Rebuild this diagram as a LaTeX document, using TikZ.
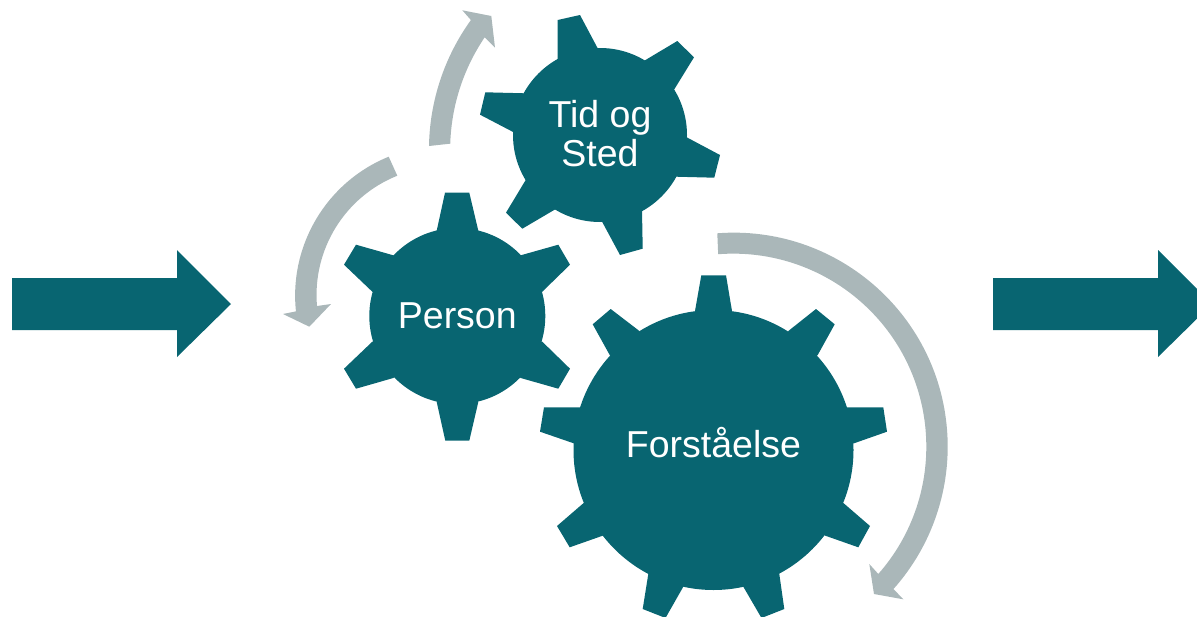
\documentclass[tikz,border=0pt]{standalone}
\usepackage{fontspec}
\setmainfont{Liberation Sans}
\usepackage{tikz}

\definecolor{gearteal}{RGB}{8,101,113}
\definecolor{ringgray}{RGB}{170,183,185}

\tikzset{
    gearfill/.style={fill=gearteal},
    ringarrow/.style={fill=ringgray},
    geartext/.style={text=white,font=\fontsize{37.5}{39}\selectfont,align=center,inner sep=0pt}
}

\begin{document}
\begin{tikzpicture}[x=1pt,y=1pt,yscale=-1,xscale=1]
    \useasboundingbox (0,0) rectangle (1197,616);
    %Right Arrow [left]
    \fill [gearfill] (12,278) -- (177,278) -- (177,250) -- (231,304) -- (177,357) -- (177,330) -- (12,330) -- cycle ;
    %Right Arrow [right]
    \fill [gearfill] (993,278) -- (1158,278) -- (1158,250) -- (1212,304) -- (1158,357) -- (1158,330) -- (993,330) -- cycle ;

    %Circular Arrow [top]
    \fill [ringarrow] (429,146) arc[start angle=181,end angle=215.8,radius=222] -- (462.3,10.3) -- (491.3,16) -- (495,47.7) -- (484.7,37.3) arc[start angle=214.1,end angle=181.8,radius=201] -- cycle ;
    %Circular Arrow [left]
    \fill [ringarrow] (388.7,156.7) arc[start angle=247.9,end angle=174,radius=150] -- (283,314) -- (309.3,326.7) -- (331,304) -- (317,306) arc[start angle=175.1,end angle=248.2,radius=128.5] -- cycle ;
    %Circular Arrow [right]
    \fill [ringarrow] (717.3,233.3) arc[start angle=-94.4,end angle=41.7,radius=214] -- (903.3,599.3) -- (874,594) -- (869.3,564) -- (878.3,574) arc[start angle=41.3,end angle=-94.5,radius=193] -- cycle ;

    %Gear [id:tid]
    \coordinate (tidmid) at (600,135);
    \fill [gearfill] (tidmid) circle (87) ;
    \fill [gearfill] (tidmid) -- (557.7,60) -- (557.7,20) -- (580,15) -- (597.7,48.3) -- cycle ;
    \fill [gearfill] (tidmid) -- (645,60.3) -- (677.3,41) -- (694,57.3) -- (674.3,89.3) -- cycle ;
    \fill [gearfill] (tidmid) -- (686.7,137.3) -- (720,155) -- (714.3,177.7) -- (676,176.7) -- cycle ;
    \fill [gearfill] (tidmid) -- (642,210) -- (642.7,248.7) -- (620,255) -- (601.7,221) -- cycle ;
    \fill [gearfill] (tidmid) -- (555.3,209.3) -- (522.3,228.7) -- (506,212.7) -- (525.7,180) -- cycle ;
    \fill [gearfill] (tidmid) -- (513.7,132.3) -- (480,114.7) -- (485.3,92.3) -- (524.7,93.3) -- cycle ;

    %Gear [id:person]
    \coordinate (personmid) at (457.3,316);
    \fill [gearfill] (personmid) circle (88) ;
    \fill [gearfill] (personmid) -- (436.7,230.7) -- (445,192.7) -- (469.3,192.7) -- (478.3,230.7) -- cycle ;
    \fill [gearfill] (personmid) -- (520.7,255.3) -- (558.3,244.7) -- (570,264.7) -- (542.3,291.7) -- cycle ;
    \fill [gearfill] (personmid) -- (542.3,341.7) -- (570,368.7) -- (558.3,388.7) -- (520.7,378) -- cycle ;
    \fill [gearfill] (personmid) -- (478.3,402) -- (469.3,440.7) -- (445.3,440.7) -- (436.7,402) -- cycle ;
    \fill [gearfill] (personmid) -- (393.3,378) -- (356,388.7) -- (344,368.7) -- (372.3,341.7) -- cycle ;
    \fill [gearfill] (personmid) -- (372.3,291.7) -- (344,264.7) -- (356,244.7) -- (393.3,255.3) -- cycle ;

    %Gear [id:forstaaelse]
    \coordinate (forstaaelsemid) at (713.5,450);
    \fill [gearfill] (forstaaelsemid) circle (140) ;
    \fill [gearfill] (forstaaelsemid) -- (695,311) -- (701.3,275.3) -- (726,275.3) -- (732,311) -- cycle ;
    \fill [gearfill] (forstaaelsemid) -- (788.7,330.7) -- (816,309) -- (834.7,324.3) -- (817.7,355) -- cycle ;
    \fill [gearfill] (forstaaelsemid) -- (847,407.3) -- (883.3,407.3) -- (887,431.7) -- (854,443.3) -- cycle ;
    \fill [gearfill] (forstaaelsemid) -- (843.7,503.3) -- (870,526) -- (858.3,547.3) -- (825.3,535.7) -- cycle ;
    \fill [gearfill] (forstaaelsemid) -- (779.3,574) -- (784.3,609) -- (761.5,618) -- (743.3,586.7) -- cycle ;
    \fill [gearfill] (forstaaelsemid) -- (683.3,586.7) -- (665.5,618) -- (642.7,609) -- (648.3,574) -- cycle ;
    \fill [gearfill] (forstaaelsemid) -- (602.7,535.7) -- (569.7,547.3) -- (557,526) -- (583.3,503.3) -- cycle ;
    \fill [gearfill] (forstaaelsemid) -- (573.7,443.3) -- (540,431.7) -- (544,407.3) -- (580.3,407.3) -- cycle ;
    \fill [gearfill] (forstaaelsemid) -- (609.7,355) -- (592.7,324.3) -- (610.7,309) -- (639,330.7) -- cycle ;

    % Text Node
    \node [geartext] (tidtext) at (600,134) {Tid og\\Sted};
    % Text Node
    \node [geartext,anchor=base] (persontext) at (457.3,328) {Person};
    % Text Node
    \node [geartext,anchor=base] (forstaaelsetext) at (713.5,457.7) {Forståelse};
\end{tikzpicture}
\end{document}
